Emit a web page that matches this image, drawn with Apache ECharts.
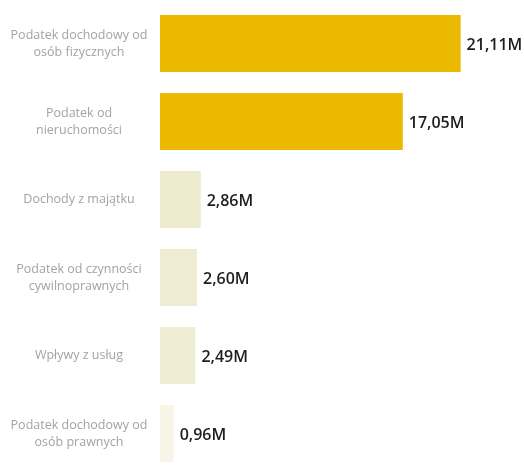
<!DOCTYPE html>
<html><head><meta charset="utf-8">
<script src="https://cdn.jsdelivr.net/npm/echarts@6/dist/echarts.min.js"></script>
<style>html,body{margin:0;padding:0;background:#fff}#c{width:524px;height:466px}</style>
</head><body><div id="c"></div>
<script>
const categories = ["Podatek dochodowy od\nosób fizycznych","Podatek od\nnieruchomości","Dochody z majątku","Podatek od czynności\ncywilnoprawnych","Wpływy z usług","Podatek dochodowy od\nosób prawnych"];
const values = [21.11, 17.05, 2.86, 2.60, 2.49, 0.96];
const barColors = ["#ebb900","#ebb900","#eeebd0","#efecd3","#f0edd5","#f7f5e7"];
const chart = echarts.init(document.getElementById('c'));
chart.setOption({
  animation:false,
  grid:{left:160,width:356,top:4.5,height:468,containLabel:false,outerBoundsMode:'none'},
  xAxis:{type:'value',min:0,max:25,show:false},
  yAxis:{type:'category',inverse:true,data:categories,
    axisLine:{show:false},axisTick:{show:false},
    axisLabel:{margin:81,align:'center',color:'#a3a3a3',fontFamily:'Open Sans',fontSize:12.5,lineHeight:17}},
  series:[{type:'bar',barCategoryGap:'27%',
    data:values.map((v,i)=>({value:v,itemStyle:{color:barColors[i]}})),
    label:{show:true,position:'right',distance:6,offset:[0,2],color:'#1e1e1e',fontFamily:'Open Sans',fontWeight:600,fontSize:16,
      formatter:p=>p.value.toFixed(2).replace('.',',')+'M'}}]
});
</script></body></html>
